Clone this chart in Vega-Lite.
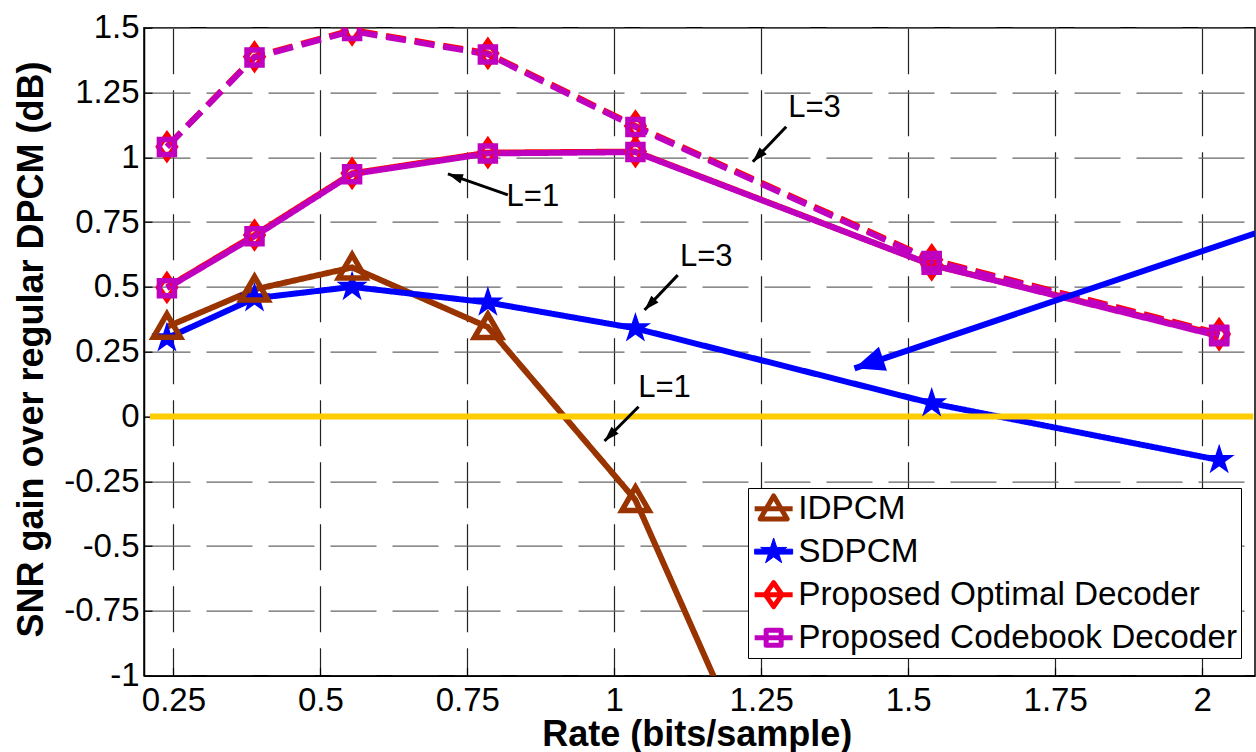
{
  "$schema": "https://vega.github.io/schema/vega-lite/v6.json",
  "width": 1111,
  "height": 648,
  "autosize": {"type": "none"},
  "padding": {"left": 144, "top": 27.7, "right": 1, "bottom": 76.3},
  "background": "white",
  "config": {
    "view": {"stroke": "black", "strokeWidth": 1.5},
    "axis": {
      "labelFont": "Liberation Sans", "labelFontSize": 33, "labelColor": "black",
      "tickColor": "black", "tickSize": -8, "tickWidth": 1.2,
      "domainColor": "black", "domainWidth": 1.5,
      "titleFont": "Liberation Sans", "titleFontSize": 36, "titleFontWeight": "bold", "titleColor": "black",
      "grid": true, "gridDash": [46, 16], "gridWidth": 1.2
    }
  },
  "datasets": {
    "curves": [
      {"series": "IDPCM", "L": "L=1", "rate": 0.239, "gain": 0.346},
      {"series": "IDPCM", "L": "L=1", "rate": 0.388, "gain": 0.49},
      {"series": "IDPCM", "L": "L=1", "rate": 0.554, "gain": 0.575},
      {"series": "IDPCM", "L": "L=1", "rate": 0.785, "gain": 0.345},
      {"series": "IDPCM", "L": "L=1", "rate": 1.036, "gain": -0.322},
      {"series": "IDPCM", "L": "L=1", "rate": 1.54, "gain": -2.9},
      {"series": "SDPCM", "L": "L=3", "rate": 0.239, "gain": 0.302},
      {"series": "SDPCM", "L": "L=3", "rate": 0.388, "gain": 0.456},
      {"series": "SDPCM", "L": "L=3", "rate": 0.554, "gain": 0.5},
      {"series": "SDPCM", "L": "L=3", "rate": 0.785, "gain": 0.44},
      {"series": "SDPCM", "L": "L=3", "rate": 1.036, "gain": 0.34},
      {"series": "SDPCM", "L": "L=3", "rate": 1.54, "gain": 0.051},
      {"series": "SDPCM", "L": "L=3", "rate": 2.029, "gain": -0.168},
      {"series": "Proposed Optimal Decoder", "L": "L=1", "rate": 0.239, "gain": 0.498},
      {"series": "Proposed Optimal Decoder", "L": "L=1", "rate": 0.388, "gain": 0.7},
      {"series": "Proposed Optimal Decoder", "L": "L=1", "rate": 0.554, "gain": 0.938},
      {"series": "Proposed Optimal Decoder", "L": "L=1", "rate": 0.785, "gain": 1.018},
      {"series": "Proposed Optimal Decoder", "L": "L=1", "rate": 1.036, "gain": 1.022},
      {"series": "Proposed Optimal Decoder", "L": "L=1", "rate": 1.54, "gain": 0.585},
      {"series": "Proposed Optimal Decoder", "L": "L=1", "rate": 2.029, "gain": 0.315},
      {"series": "Proposed Optimal Decoder", "L": "L=3", "rate": 0.239, "gain": 1.041},
      {"series": "Proposed Optimal Decoder", "L": "L=3", "rate": 0.388, "gain": 1.388},
      {"series": "Proposed Optimal Decoder", "L": "L=3", "rate": 0.554, "gain": 1.491},
      {"series": "Proposed Optimal Decoder", "L": "L=3", "rate": 0.785, "gain": 1.401},
      {"series": "Proposed Optimal Decoder", "L": "L=3", "rate": 1.036, "gain": 1.121},
      {"series": "Proposed Optimal Decoder", "L": "L=3", "rate": 1.54, "gain": 0.605},
      {"series": "Proposed Optimal Decoder", "L": "L=3", "rate": 2.029, "gain": 0.32},
      {"series": "Proposed Codebook Decoder", "L": "L=1", "rate": 0.239, "gain": 0.495},
      {"series": "Proposed Codebook Decoder", "L": "L=1", "rate": 0.388, "gain": 0.695},
      {"series": "Proposed Codebook Decoder", "L": "L=1", "rate": 0.554, "gain": 0.935},
      {"series": "Proposed Codebook Decoder", "L": "L=1", "rate": 0.785, "gain": 1.015},
      {"series": "Proposed Codebook Decoder", "L": "L=1", "rate": 1.036, "gain": 1.02},
      {"series": "Proposed Codebook Decoder", "L": "L=1", "rate": 1.54, "gain": 0.585},
      {"series": "Proposed Codebook Decoder", "L": "L=1", "rate": 2.029, "gain": 0.31},
      {"series": "Proposed Codebook Decoder", "L": "L=3", "rate": 0.239, "gain": 1.04},
      {"series": "Proposed Codebook Decoder", "L": "L=3", "rate": 0.388, "gain": 1.385},
      {"series": "Proposed Codebook Decoder", "L": "L=3", "rate": 0.554, "gain": 1.487},
      {"series": "Proposed Codebook Decoder", "L": "L=3", "rate": 0.785, "gain": 1.397},
      {"series": "Proposed Codebook Decoder", "L": "L=3", "rate": 1.036, "gain": 1.117},
      {"series": "Proposed Codebook Decoder", "L": "L=3", "rate": 1.54, "gain": 0.6},
      {"series": "Proposed Codebook Decoder", "L": "L=3", "rate": 2.029, "gain": 0.315}
    ],
    "zero": [{"rate": 0.21, "rate2": 2.087, "gain": 0}],
    "notes": [
      {"label": "L=3", "rate": 1.3406, "gain": 1.19},
      {"label": "L=1", "rate": 0.8616, "gain": 0.848},
      {"label": "L=3", "rate": 1.1565, "gain": 0.6165},
      {"label": "L=1", "rate": 1.0855, "gain": 0.109}
    ],
    "arrows": [
      {"kind": "note", "rate": 1.2357, "gain": 0.983, "rate2": 1.2925, "gain2": 1.118, "angle": 223.7},
      {"kind": "note", "rate": 0.717, "gain": 0.936, "rate2": 0.819, "gain2": 0.855, "angle": 289.3},
      {"kind": "note", "rate": 1.0515, "gain": 0.411, "rate2": 1.108, "gain2": 0.5455, "angle": 223.6},
      {"kind": "note", "rate": 0.9834, "gain": -0.0945, "rate2": 1.0413, "gain2": 0.0378, "angle": 224.7},
      {"kind": "blue", "rate": 1.4087, "gain": 0.186, "rate2": 2.0906, "gain2": 0.707, "angle": 251.4}
    ]
  },
  "layer": [
    {
      "data": {"name": "curves"},
      "mark": {"type": "line", "strokeWidth": 6, "clip": true, "strokeCap": "butt"},
      "encoding": {
        "x": {"field": "rate", "type": "quantitative", "title": "Rate (bits/sample)",
          "scale": {"domain": [0.2, 2.09], "nice": false, "zero": false},
          "axis": {"values": [0.25, 0.5, 0.75, 1, 1.25, 1.5, 1.75, 2], "labelExpr": "'' + datum.value",
            "labelPadding": 16.6, "gridColor": "#222", "titleX": 552.7, "titleY": 70,
            "titleBaseline": "alphabetic", "titleAlign": "center"}},
        "y": {"field": "gain", "type": "quantitative", "title": "SNR gain over regular DPCM (dB)",
          "scale": {"domain": [-1, 1.5], "nice": false, "zero": false},
          "axis": {"values": [-1, -0.75, -0.5, -0.25, 0, 0.25, 0.5, 0.75, 1, 1.25, 1.5], "labelExpr": "'' + datum.value",
            "labelPadding": 13, "gridColor": "#666", "titleX": -113, "titleY": 321.3, "titleAngle": -90,
            "titleAlign": "center", "titleBaseline": "middle"}},
        "color": {"field": "series", "type": "nominal",
          "scale": {"domain": ["IDPCM", "SDPCM", "Proposed Optimal Decoder", "Proposed Codebook Decoder"],
            "range": ["#993300", "#0000ff", "#ff0000", "#bf00bf"]},
          "legend": {
            "title": null, "orient": "none", "legendX": 604, "legendY": 460.3,
            "symbolSize": 1444, "symbolOffset": 5, "labelOffset": 8, "rowPadding": 9, "padding": 4,
            "labelFont": "Liberation Sans", "labelFontSize": 33.3, "labelColor": "black", "labelLimit": 1000,
            "strokeColor": "black", "fillColor": "white", "symbolStrokeWidth": 5,
            "encode": {
              "symbols": {
                "update": {
                  "shape": {"signal": "datum.value === 'IDPCM' ? 'M-1,0L1,0M0,-0.67L0.71,0.55L-0.71,0.55Z' : datum.value === 'SDPCM' ? 'M-1,-0.13L1,-0.13L1,0.13L-1,0.13ZM0,-0.72L0.1616,-0.2225L0.6847,-0.2225L0.2614,0.085L0.4234,0.5825L0,0.275L-0.4234,0.5825L-0.2614,0.085L-0.6847,-0.2225L-0.1616,-0.2225Z' : datum.value === 'Proposed Optimal Decoder' ? 'M-1,0L1,0M0,-0.63L0.44,0L0,0.63L-0.44,0Z' : 'M-1,0L1,0M-0.395,-0.395L0.395,-0.395L0.395,0.395L-0.395,0.395Z'"},
                  "fill": {"signal": "datum.value === 'SDPCM' ? '#0000ff' : 'transparent'"},
                  "stroke": {"signal": "scale('color', datum.value)"},
                  "strokeWidth": {"signal": "datum.value === 'SDPCM' ? 1 : 5"},
                  "strokeJoin": {"value": "round"},
                  "strokeDash": {"value": []},
                  "opacity": {"value": 1}
                }
              }
            }
          }},
        "detail": {"field": "L"},
        "strokeDash": {"condition": {"test": "datum.L === 'L=3' && indexof(datum.series, 'Proposed') === 0", "value": [20, 9]}, "value": [1, 0]}
      }
    },
    {
      "data": {"name": "zero"},
      "mark": {"type": "rule", "color": "#ffcc00", "strokeWidth": 6},
      "encoding": {
        "x": {"field": "rate", "type": "quantitative", "title": "Rate (bits/sample)"},
        "x2": {"field": "rate2"},
        "y": {"field": "gain", "type": "quantitative", "title": "SNR gain over regular DPCM (dB)"}
      }
    },
    {
      "data": {"name": "curves"},
      "transform": [{"filter": "datum.series === 'SDPCM'"}],
      "mark": {"type": "point", "filled": true, "fill": "#0000ff", "stroke": "#0000ff", "strokeWidth": 1.5, "opacity": 1, "size": 900, "clip": true,
        "shape": "M0,-0.93L0.2088,-0.2874L0.8844,-0.2874L0.3376,0.1097L0.5468,0.7524L0,0.3553L-0.5468,0.7524L-0.3376,0.1097L-0.8844,-0.2874L-0.2088,-0.2874Z"},
      "encoding": {
        "x": {"field": "rate", "type": "quantitative", "title": "Rate (bits/sample)"},
        "y": {"field": "gain", "type": "quantitative", "title": "SNR gain over regular DPCM (dB)"}
      }
    },
    {
      "data": {"name": "curves"},
      "transform": [{"filter": "datum.series !== 'SDPCM'"}],
      "mark": {"type": "point", "filled": false, "strokeWidth": 5.5, "opacity": 1, "size": 900, "clip": true},
      "encoding": {
        "x": {"field": "rate", "type": "quantitative", "title": "Rate (bits/sample)"},
        "y": {"field": "gain", "type": "quantitative", "title": "SNR gain over regular DPCM (dB)"},
        "shape": {"field": "series", "type": "nominal", "legend": null,
          "scale": {"domain": ["Proposed Codebook Decoder", "Proposed Optimal Decoder", "IDPCM"],
            "range": ["M-0.5,-0.5L0.5,-0.5L0.5,0.5L-0.5,0.5Z",
              "M0,-0.8L0.56,0L0,0.8L-0.56,0Z",
              "M0,-0.85L0.9,0.7L-0.9,0.7Z"]}},
        "color": {"field": "series", "type": "nominal", "legend": null}
      }
    },
    {
      "data": {"name": "arrows"},
      "transform": [{"filter": "datum.kind === 'note'"}],
      "mark": {"type": "rule", "color": "black", "strokeWidth": 3},
      "encoding": {
        "x": {"field": "rate", "type": "quantitative", "title": "Rate (bits/sample)"},
        "y": {"field": "gain", "type": "quantitative", "title": "SNR gain over regular DPCM (dB)"},
        "x2": {"field": "rate2"},
        "y2": {"field": "gain2"}
      }
    },
    {
      "data": {"name": "arrows"},
      "transform": [{"filter": "datum.kind === 'note'"}],
      "mark": {"type": "point", "filled": true, "color": "black", "opacity": 1, "size": 900, "shape": "M0,0L0.33,1L-0.33,1Z"},
      "encoding": {
        "x": {"field": "rate", "type": "quantitative", "title": "Rate (bits/sample)"},
        "y": {"field": "gain", "type": "quantitative", "title": "SNR gain over regular DPCM (dB)"},
        "angle": {"field": "angle", "type": "quantitative", "scale": null}
      }
    },
    {
      "data": {"name": "arrows"},
      "transform": [{"filter": "datum.kind === 'blue'"}],
      "mark": {"type": "rule", "color": "#0000ff", "strokeWidth": 6, "clip": true},
      "encoding": {
        "x": {"field": "rate", "type": "quantitative", "title": "Rate (bits/sample)"},
        "y": {"field": "gain", "type": "quantitative", "title": "SNR gain over regular DPCM (dB)"},
        "x2": {"field": "rate2"},
        "y2": {"field": "gain2"}
      }
    },
    {
      "data": {"name": "arrows"},
      "transform": [{"filter": "datum.kind === 'blue'"}],
      "mark": {"type": "point", "filled": true, "color": "#0000ff", "opacity": 1, "size": 3600, "shape": "M0,0L0.42,1L-0.42,1Z"},
      "encoding": {
        "x": {"field": "rate", "type": "quantitative", "title": "Rate (bits/sample)"},
        "y": {"field": "gain", "type": "quantitative", "title": "SNR gain over regular DPCM (dB)"},
        "angle": {"field": "angle", "type": "quantitative", "scale": null}
      }
    },
    {
      "data": {"name": "notes"},
      "mark": {"type": "text", "font": "Liberation Sans", "fontSize": 31, "color": "black", "align": "center", "baseline": "middle"},
      "encoding": {
        "x": {"field": "rate", "type": "quantitative", "title": "Rate (bits/sample)"},
        "y": {"field": "gain", "type": "quantitative", "title": "SNR gain over regular DPCM (dB)"},
        "text": {"field": "label"}
      }
    }
  ]
}
